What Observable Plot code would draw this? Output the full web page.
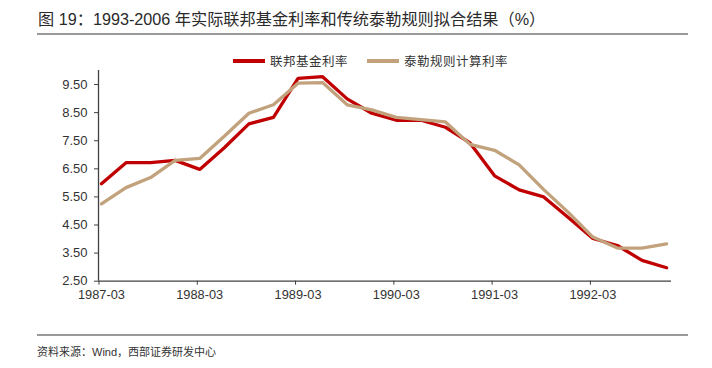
<!DOCTYPE html>
<html>
<head>
<meta charset="utf-8">
<script src="https://cdn.jsdelivr.net/npm/d3@7"></script>
<script src="https://cdn.jsdelivr.net/npm/@observablehq/plot@0.6"></script>
<style>
  html, body { margin: 0; padding: 0; background: #fff; }
  body { width: 712px; height: 368px; position: relative; overflow: hidden;
         font-family: "Liberation Sans", Arial, "Noto Sans CJK SC", sans-serif; color: #333; }
  #title { position: absolute; left: 38px; top: 10px; font-size: 16.2px; line-height: 18px; color: #2a2a2a; white-space: nowrap; }
  .rule { position: absolute; left: 37px; width: 651px; height: 2px; background: #9a9a9a; }
  #source { position: absolute; left: 37px; top: 345px; font-size: 11px; line-height: 14px; color: #333; white-space: nowrap; }
  #legend { position: absolute; top: 53px; left: 233px; font-size: 12.5px; line-height: 16px; white-space: nowrap;
            font-family: "Noto Sans CJK SC", sans-serif; color: #333; letter-spacing: 0.5px; }
  .item { position: absolute; top: 0; display: flex; align-items: center; }
  .swatch { width: 32px; height: 3.3px; margin-right: 5px; }
  #chart { position: absolute; left: 0; top: 0; }
</style>
</head>
<body>
<div id="title">图 19：1993-2006 年实际联邦基金利率和传统泰勒规则拟合结果（%）</div>
<div class="rule" style="top:33px"></div>
<div id="chart"></div>
<div id="legend"></div>
<div class="rule" style="top:334px"></div>
<div id="source">资料来源：Wind，西部证券研发中心</div>
<script>
const quarters = ["1987-03","1987-06","1987-09","1987-12","1988-03","1988-06","1988-09","1988-12",
                  "1989-03","1989-06","1989-09","1989-12","1990-03","1990-06","1990-09","1990-12",
                  "1991-03","1991-06","1991-09","1991-12","1992-03","1992-06","1992-09","1992-12"];
const fedFunds = [5.97,6.72,6.72,6.80,6.48,7.25,8.10,8.33,9.72,9.78,8.99,8.48,
                  8.23,8.23,7.98,7.42,6.25,5.75,5.50,4.77,4.02,3.77,3.24,2.98];
const taylorRule = [5.25,5.83,6.19,6.80,6.87,7.66,8.48,8.78,9.55,9.57,8.78,8.60,
                    8.33,8.25,8.17,7.37,7.16,6.64,5.76,4.95,4.07,3.68,3.68,3.83];
const seriesNames = ["联邦基金利率","泰勒规则计算利率"];
const seriesColors = ["#c00000","#c2a27c"];
const yTicks = [2.5,3.5,4.5,5.5,6.5,7.5,8.5,9.5];
const xTickLabels = ["1987-03","1988-03","1989-03","1990-03","1991-03","1992-03"];

const rows = quarters.map((q, i) => ({i, q, fed: fedFunds[i], taylor: taylorRule[i]}));
const xTickIdx = xTickLabels.map(t => quarters.indexOf(t));
const axisColor = "#404040";

const chart = Plot.plot({
  width: 712,
  height: 368,
  marginTop: 70,
  marginBottom: 87.3,
  marginLeft: 98,
  marginRight: 41,
  x: {domain: [-0.12, 23.2]},
  y: {domain: [2.5, 10]},
  style: {fontFamily: "'Liberation Sans', Arial, sans-serif", fontSize: "13px", color: "#333", background: "transparent", overflow: "visible"},
  marks: [
    Plot.axisY({ticks: yTicks, tickFormat: d => d.toFixed(2), tickSize: 4, tickPadding: 7, stroke: axisColor, label: null, fontSize: 13}),
    Plot.axisX({ticks: xTickIdx.map(i => i - 0.1), tickFormat: () => "", tickSize: 4, stroke: axisColor, label: null}),
    Plot.axisX({ticks: xTickIdx, tickFormat: i => quarters[i], tickSize: 0, tickPadding: 9, label: null, fontSize: 12.8}),
    Plot.ruleY([2.5], {stroke: axisColor, strokeWidth: 1.3}),
    Plot.ruleX([-0.12], {stroke: axisColor, strokeWidth: 1.3}),
    Plot.line(rows, {x: "i", y: "fed", stroke: seriesColors[0], strokeWidth: 3.3, strokeLinejoin: "miter"}),
    Plot.line(rows, {x: "i", y: "taylor", stroke: seriesColors[1], strokeWidth: 3.3, strokeLinejoin: "miter"})
  ]
});
document.getElementById("chart").appendChild(chart);

const legend = document.getElementById("legend");
const offsets = [0, 134];
seriesNames.forEach((name, k) => {
  const item = document.createElement("div");
  item.className = "item";
  item.style.left = offsets[k] + "px";
  item.innerHTML = `<div class="swatch" style="background:${seriesColors[k]}"></div><span>${name}</span>`;
  legend.appendChild(item);
});
</script>
</body>
</html>
